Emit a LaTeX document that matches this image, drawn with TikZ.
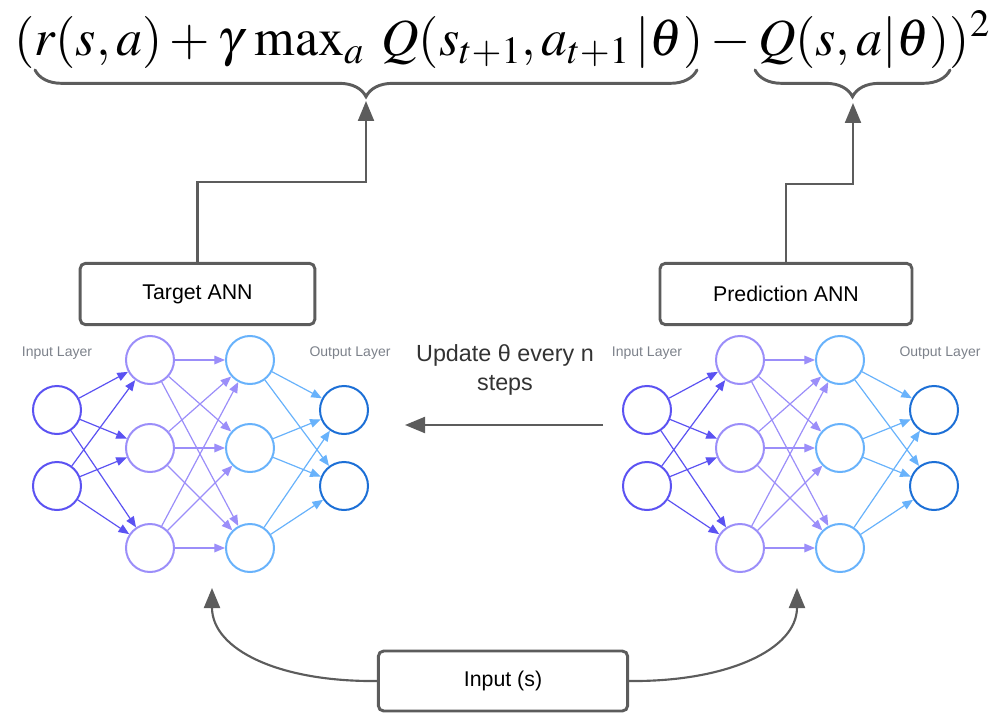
\documentclass[tikz,border=0pt]{standalone}
\usepackage{mathptmx}
\usepackage[no-math]{fontspec}
\setmainfont{Liberation Sans}
\usetikzlibrary{arrows.meta,decorations.pathreplacing}

\definecolor{inblue}{HTML}{5B52F2}
\definecolor{hidpurple}{HTML}{9B8EF9}
\definecolor{hidblue}{HTML}{68B2FB}
\definecolor{outblue}{HTML}{1C6FD6}
\definecolor{boxgray}{HTML}{5C5C5C}
\definecolor{labelgray}{HTML}{7C818A}

\tikzset{
  neuron/.style={circle,draw,line width=1.5pt,minimum size=36pt,inner sep=0pt},
  synapse/.style={-{Triangle[length=8pt,width=6.5pt]},line width=0.9pt},
  annbox/.style={draw=boxgray,line width=2.2pt,rounded corners=4pt,
    minimum height=46pt,font=\fontsize{16}{19}\selectfont},
  layerlabel/.style={text=labelgray,font=\fontsize{10.5}{12}\selectfont},
  flowarrow/.style={draw=boxgray,line width=1.6pt,
    -{Triangle[length=15pt,width=12pt,fill=boxgray]}},
  bracket/.style={draw=boxgray,line width=2.2pt,line cap=round,
    decorate,decoration={brace,mirror,amplitude=20pt}}
}

\begin{document}
\begin{tikzpicture}[x=0.75pt,y=-0.75pt]

        \useasboundingbox (0,0) rectangle (995,713);

        % loss formula
        \node (loss) at (502,40)
          {\fontsize{39}{45}\selectfont
           $(r(s,a)+\gamma\,\max_a\; Q(s_{t+1},a_{t+1}\,|\theta)-Q(s,a|\theta))^2$};
        \draw[bracket] (35,70) -- (697,70);
        \draw[bracket] (755,70) -- (950,70);
        \coordinate (ttip) at (366,101);
        \coordinate (ptip) at (853,103);

        % boxes
        \node[annbox,minimum width=176pt] (tbox) at (197.5,294) {Target ANN};
        \node[annbox,minimum width=189pt] (pbox) at (786,294) {Prediction ANN};
        \node[annbox,minimum width=187pt,minimum height=45pt] (inbox) at (503,681) {Input (s)};

        \draw[flowarrow] (tbox.north) -- ++(0,-80) -| (ttip);
        \draw[flowarrow] (pbox.north) -- ++(0,-78) -| (ptip);

        % target network
        \begin{scope}[every node/.style={neuron}]
          \node[inblue]     (t1)  at (57,410)  {};
          \node[inblue]     (t2)  at (57,486)  {};
          \node[hidpurple]  (t3)  at (150,360) {};
          \node[hidpurple]  (t4)  at (150,448) {};
          \node[hidpurple]  (t5)  at (150,548) {};
          \node[hidblue]    (t6)  at (250,360) {};
          \node[hidblue]    (t7)  at (250,448) {};
          \node[hidblue]    (t8)  at (250,548) {};
          \node[outblue]    (t9)  at (344,410) {};
          \node[outblue]    (t10) at (344,486) {};
        \end{scope}

        \node[layerlabel] (tinlabel)  at (57,353)  {Input Layer};
        \node[layerlabel] (toutlabel) at (350,353) {Output Layer};

        \begin{scope}[synapse]
          \draw[inblue] (t1) edge (t3) edge (t4) edge (t5);
          \draw[inblue] (t2) edge (t3) edge (t4) edge (t5);
          \draw[hidpurple] (t3) edge (t6) edge (t7) edge (t8);
          \draw[hidpurple] (t4) edge (t6) edge (t7) edge (t8);
          \draw[hidpurple] (t5) edge (t6) edge (t7) edge (t8);
          \draw[hidblue] (t6) edge (t9) edge (t10);
          \draw[hidblue] (t7) edge (t9) edge (t10);
          \draw[hidblue] (t8) edge (t9) edge (t10);
        \end{scope}

        % prediction network
        \begin{scope}[every node/.style={neuron}]
          \node[inblue]     (p1)  at (647,410) {};
          \node[inblue]     (p2)  at (647,486) {};
          \node[hidpurple]  (p3)  at (740,360) {};
          \node[hidpurple]  (p4)  at (740,448) {};
          \node[hidpurple]  (p5)  at (740,548) {};
          \node[hidblue]    (p6)  at (840,360) {};
          \node[hidblue]    (p7)  at (840,448) {};
          \node[hidblue]    (p8)  at (840,548) {};
          \node[outblue]    (p9)  at (934,410) {};
          \node[outblue]    (p10) at (934,486) {};
        \end{scope}

        \node[layerlabel] (pinlabel)  at (647,353) {Input Layer};
        \node[layerlabel] (poutlabel) at (940,353) {Output Layer};

        \begin{scope}[synapse]
          \draw[inblue] (p1) edge (p3) edge (p4) edge (p5);
          \draw[inblue] (p2) edge (p3) edge (p4) edge (p5);
          \draw[hidpurple] (p3) edge (p6) edge (p7) edge (p8);
          \draw[hidpurple] (p4) edge (p6) edge (p7) edge (p8);
          \draw[hidpurple] (p5) edge (p6) edge (p7) edge (p8);
          \draw[hidblue] (p6) edge (p9) edge (p10);
          \draw[hidblue] (p7) edge (p9) edge (p10);
          \draw[hidblue] (p8) edge (p9) edge (p10);
        \end{scope}

        % weight copy
        \node[text=black!80,align=center,font=\fontsize{17.5}{22}\selectfont]
          (update) at (505,370) {Update θ every n\\steps};
        \coordinate (ustart) at (603,425);
        \coordinate (uend)   at (405,425);
        \draw[flowarrow] (ustart) -- (uend);

        % input to both networks
        \coordinate (tin) at (212,588);
        \coordinate (pin) at (797,588);
        \draw[flowarrow] (inbox.west) .. controls (280,682) and (212,650) .. (tin);
        \draw[flowarrow] (inbox.east) .. controls (726,682) and (797,650) .. (pin);

      \end{tikzpicture}
\end{document}
